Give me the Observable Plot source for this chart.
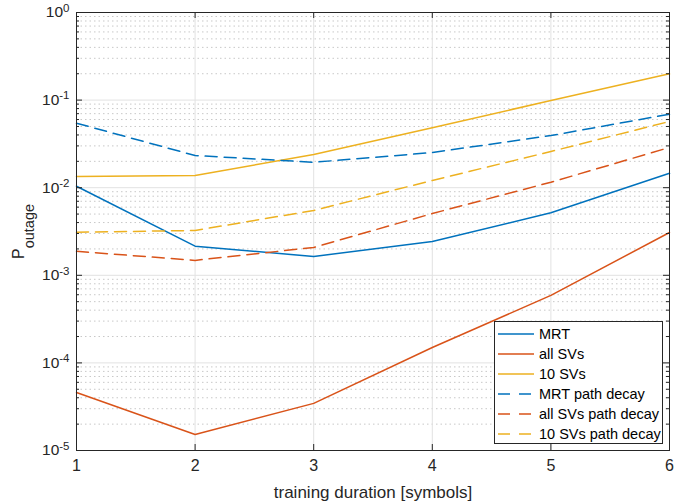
<!DOCTYPE html>
<html><head><meta charset="utf-8">
<script src="https://cdn.jsdelivr.net/npm/d3@7"></script>
<script src="https://cdn.jsdelivr.net/npm/@observablehq/plot@0.6"></script>
<style>
body{margin:0;background:#fff;font-family:"Liberation Sans",Arial,sans-serif;}
#wrap{position:relative;width:684px;height:501px;}
#legend{position:absolute;left:494px;top:321px;width:169px;height:123px;border:1px solid #262626;background:#fff;box-sizing:border-box;font-size:14.5px;color:#000;}
#legend .row{position:absolute;left:0;height:20px;display:flex;align-items:center;white-space:nowrap;}
#legend svg{margin-left:3px;margin-right:5px;}
</style></head><body><div id="wrap"></div>
<script>
// ---- data ----
const trainingDuration = [1, 2, 3, 4, 5, 6];
const seriesNames = ["MRT", "all SVs", "10 SVs", "MRT path decay", "all SVs path decay", "10 SVs path decay"];
const mrt            = [0.0104, 0.00215, 0.00164, 0.00243, 0.00517, 0.0146];
const allSVs         = [4.6e-5, 1.52e-5, 3.45e-5, 1.5e-4, 5.9e-4, 0.00308];
const tenSVs         = [0.0134, 0.0138, 0.0239, 0.0483, 0.099, 0.1995];
const mrtDecay       = [0.0545, 0.0233, 0.0195, 0.0252, 0.0394, 0.069];
const allSVsDecay    = [0.00188, 0.00148, 0.00208, 0.00507, 0.01155, 0.0288];
const tenSVsDecay    = [0.0031, 0.00325, 0.0055, 0.0121, 0.0259, 0.057];
const seriesValues = [mrt, allSVs, tenSVs, mrtDecay, allSVsDecay, tenSVsDecay];
const seriesColors = ["#0072BD", "#D95319", "#EDB120", "#0072BD", "#D95319", "#EDB120"];
const seriesDashed = [false, false, false, true, true, true];
const xTicks = [1, 2, 3, 4, 5, 6];
const yTicks = [1e-5, 1e-4, 1e-3, 1e-2, 1e-1, 1];
const yTickExponents = ["-5", "-4", "-3", "-2", "-1", "0"];
const xLabel = "training duration [symbols]";

// ---- build ----
const W = 684, H = 501, mL = 76, mR = 15, mT = 12, mB = 51;
const pw = W - mL - mR, ph = H - mT - mB;
const minorTicks = yTicks.slice(0, -1).flatMap(d => d3.range(2, 10).map(m => m * d));

const rows = [];
seriesNames.forEach((name, i) => trainingDuration.forEach((x, j) =>
  rows.push({x, v: seriesValues[i][j], series: name, dashed: seriesDashed[i]})));
const solidRows = rows.filter(d => !d.dashed), dashedRows = rows.filter(d => d.dashed);
const colorScale = {domain: seriesNames, range: seriesColors};
const axisColor = "#262626";

const chart = Plot.plot({
  width: W, height: H, marginLeft: mL, marginRight: mR, marginTop: mT, marginBottom: mB,
  style: {fontFamily: '"Liberation Sans", Arial, sans-serif', fontSize: "15px", color: axisColor, background: "#fff"},
  x: {domain: [1, 6]},
  y: {type: "log", domain: [1e-5, 1]},
  color: colorScale,
  marks: [
    Plot.ruleY(minorTicks, {stroke: "#c8c8c8", strokeDasharray: "1.5,3", strokeWidth: 1}),
    Plot.ruleY(yTicks, {stroke: "#e2e2e2", strokeWidth: 1}),
    Plot.ruleX(xTicks, {stroke: "#e2e2e2", strokeWidth: 1}),
    Plot.line(solidRows, {x: "x", y: "v", z: "series", stroke: "series", strokeWidth: 1.5}),
    Plot.line(dashedRows, {x: "x", y: "v", z: "series", stroke: "series", strokeWidth: 1.5, strokeDasharray: "12,7"}),
    // inward ticks
    Plot.tickY(yTicks, {insetRight: pw - 6, stroke: axisColor}),
    Plot.tickY(yTicks, {insetLeft: pw - 6, stroke: axisColor}),
    Plot.tickY(minorTicks, {insetRight: pw - 3, stroke: axisColor}),
    Plot.tickY(minorTicks, {insetLeft: pw - 3, stroke: axisColor}),
    Plot.tickX(xTicks, {insetTop: ph - 6, stroke: axisColor}),
    Plot.tickX(xTicks, {insetBottom: ph - 6, stroke: axisColor}),
    Plot.frame({stroke: axisColor, strokeWidth: 1}),
    Plot.axisY(yTicks, {anchor: "left", tickSize: 0, tickPadding: 7, fontSize: 15.5,
      tickFormat: (d) => "10|" + yTickExponents[yTicks.indexOf(d)],
      label: "P|outage", labelAnchor: "center", labelOffset: 64, labelArrow: false}),
    Plot.axisX(xTicks, {anchor: "bottom", tickSize: 0, tickPadding: 9, fontSize: 16,
      tickFormat: d => String(d), label: null}),
    Plot.axisX({anchor: "bottom", ticks: [], tickSize: 0, fontSize: 17,
      label: xLabel, labelAnchor: "center", labelOffset: 47, labelArrow: false})
  ]
});
document.getElementById("wrap").appendChild(chart);

// superscript exponents on the y tick labels
d3.select(chart).selectAll('g[aria-label="y-axis tick label"] text').each(function() {
  const [base, exp] = this.textContent.split("|");
  const t = d3.select(this).text("");
  t.append("tspan").text(base);
  t.append("tspan").attr("dy", "-0.5em").attr("font-size", "11.5px").text(exp);
});
// subscript on the y axis label
d3.select(chart).selectAll('g[aria-label="y-axis label"] text').each(function() {
  const [base, sub] = this.textContent.split("|");
  const t = d3.select(this).text("");
  t.append("tspan").attr("font-size", "16px").text(base);
  t.append("tspan").attr("dy", "0.7em").attr("font-size", "14.5px").text(sub);
});

// legend
const legend = document.createElement("div");
legend.id = "legend";
seriesNames.forEach((name, i) => {
  const row = document.createElement("div");
  row.className = "row";
  row.style.top = (2 + i * 19.9) + "px";
  const dash = seriesDashed[i] ? 'stroke-dasharray="12,9"' : "";
  row.innerHTML = `<svg width="36" height="4"><line x1="0" x2="36" y1="2" y2="2" stroke="${seriesColors[i]}" stroke-width="1.5" ${dash}/></svg><span>${name}</span>`;
  legend.appendChild(row);
});
document.getElementById("wrap").appendChild(legend);
</script></body></html>
